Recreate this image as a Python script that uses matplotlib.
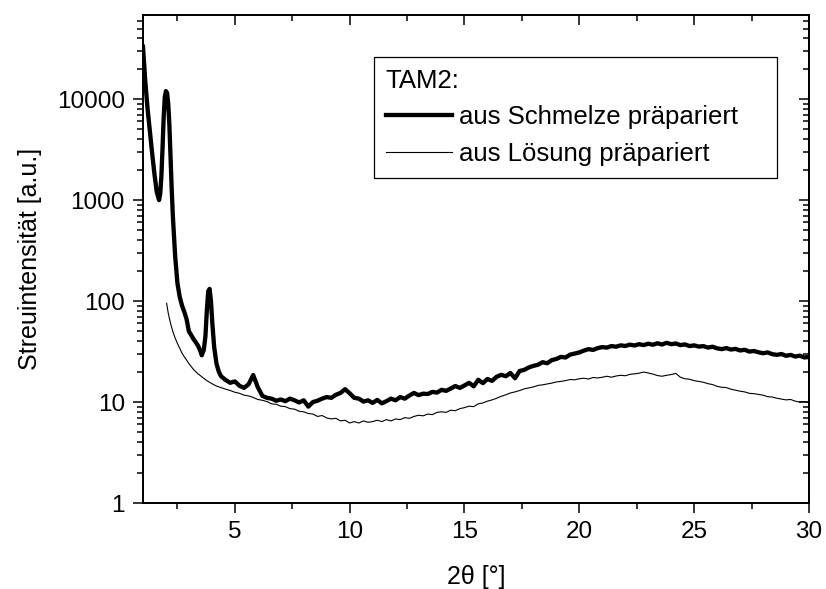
import numpy as np
import matplotlib
matplotlib.use("Agg")
import matplotlib.pyplot as plt

plt.rcParams['font.family'] = ['Liberation Sans', 'DejaVu Sans']

# TAM2, aus Schmelze praepariert (thick line)
melt_x_head = [1.0, 1.1, 1.2, 1.3, 1.4, 1.5, 1.6, 1.7, 1.75, 1.8, 1.85, 1.9, 1.95,
               2.0, 2.05, 2.1, 2.15, 2.2, 2.25, 2.3, 2.4, 2.5, 2.6, 2.7, 2.8, 2.9,
               3.0, 3.1, 3.2, 3.3, 3.4, 3.5, 3.56, 3.65, 3.72, 3.78, 3.84, 3.9,
               3.96, 4.02, 4.1, 4.2, 4.3]
melt_y_head = [33000, 15000, 8000, 4800, 2900, 1800, 1200, 1000, 1150, 1700, 3200,
               6500, 10500, 12000, 11500, 9000, 5500, 2700, 1300, 700, 280, 150,
               110, 90, 78, 66, 50, 46, 42, 39, 36, 32, 29, 33, 45, 80, 125, 132,
               100, 60, 35, 24, 20]
tail_x = np.round(np.arange(4.4, 30.01, 0.2), 2)
melt_y_tail = [
    18, 16.5, 15.5, 16, 14.5, 13.8, 15, 18.5, 14, 11.5,
    11, 10.8, 10.3, 10.6, 10.2, 10.8, 10.4, 9.9, 10.4, 9.0,
    10.0, 10.3, 10.8, 11.2, 11.0, 11.8, 12.3, 13.4, 12.2, 11.0,
    10.8, 10.1, 10.4, 9.8, 10.5, 9.7, 10.2, 10.8, 10.4, 11.2,
    10.8, 11.6, 12.3, 11.7, 12.1, 12.0, 12.6, 12.4, 13.2, 12.9,
    13.6, 14.4, 13.8, 14.6, 15.5, 14.3, 16.6, 15.4, 16.9, 16.2,
    17.8, 18.6, 18.0, 19.4, 17.2, 20.3, 20.8, 22.0, 22.8, 23.4,
    24.8, 24.2, 26.0, 26.7, 28.0, 27.6, 29.5, 30.2, 31.0, 32.3,
    33.4, 32.8, 34.2, 35.0, 34.6, 35.8, 35.3, 36.4, 35.9, 37.0,
    36.3, 37.4, 36.6, 37.8, 36.9, 38.2, 37.1, 38.6, 37.4, 38.0,
    36.6, 37.2, 35.8, 36.4, 35.4, 35.8, 34.6, 35.3, 34.0, 33.4,
    34.2, 33.1, 33.6, 32.4, 32.9, 31.6, 32.0, 31.1, 30.4, 31.0,
    29.8, 29.3, 29.9, 28.7, 29.3, 28.2, 28.8, 27.6, 28.0]

# TAM2, aus Loesung praepariert (thin line)
sol_x_head = [2.03, 2.1, 2.2, 2.3, 2.4, 2.5, 2.6, 2.7, 2.8, 2.9, 3.0, 3.2, 3.4,
              3.6, 3.8, 4.0, 4.2]
sol_y_head = [95, 76, 60, 50, 43, 38, 34, 30.5, 28, 26, 24, 21, 19, 17.5, 16.2,
              15.2, 14.4]
sol_y_tail = [
    13.9, 13.4, 13.0, 12.5, 12.2, 11.7, 11.5, 11.1, 10.6, 10.4,
    10.1, 9.6, 9.5, 9.1, 9.0, 8.6, 8.5, 8.1, 8.0, 7.7,
    7.6, 7.2, 7.35, 6.95, 6.8, 6.9, 6.5, 6.6, 6.2, 6.4,
    6.2, 6.5, 6.3, 6.4, 6.6, 6.4, 6.7, 6.5, 6.8, 6.7,
    7.0, 6.9, 7.2, 7.4, 7.3, 7.6, 7.5, 7.9, 8.0, 7.9,
    8.3, 8.2, 8.6, 8.8, 9.1, 9.0, 9.6, 9.8, 10.2, 10.5,
    10.9, 11.4, 11.8, 12.3, 12.6, 13.0, 13.5, 13.8, 14.1, 14.6,
    14.8, 15.1, 15.4, 15.8, 16.0, 16.3, 16.7, 16.6, 17.0, 17.2,
    16.9, 17.5, 17.3, 17.6, 18.0, 17.6, 18.1, 18.4, 18.2, 18.8,
    19.0, 19.3, 19.8, 19.4, 18.9, 18.3, 18.0, 18.4, 18.7, 19.2,
    17.6, 17.0, 16.8, 16.3, 16.0, 15.7, 15.2, 14.9, 14.3, 14.0,
    13.9, 13.4, 13.1, 12.8, 12.6, 12.2, 12.1, 11.9, 11.7, 11.3,
    11.2, 10.9, 10.7, 10.5, 10.6, 10.2, 10.0, 10.1, 9.9]

melt_x = np.concatenate([melt_x_head, tail_x])
melt_y = np.concatenate([melt_y_head, melt_y_tail])
sol_x = np.concatenate([sol_x_head, tail_x])
sol_y = np.concatenate([sol_y_head, sol_y_tail])

fig = plt.figure(figsize=(8.26, 5.89), dpi=100)
ax = fig.add_axes([0.1731, 0.146, 0.8063, 0.8285])

ax.plot(melt_x, melt_y, color='black', lw=3.1, label='aus Schmelze präpariert')
ax.plot(sol_x, sol_y, color='black', lw=0.8, label='aus Lösung präpariert')

ax.set_yscale('log')
ax.set_xlim(1, 30)
ax.set_ylim(1, 6.8e4)
ax.set_xticks([5, 10, 15, 20, 25, 30])
ax.set_xticks(np.arange(2.5, 30, 5), minor=True)
ax.set_yticks([1, 10, 100, 1000, 10000])
ax.set_yticklabels(['1', '10', '100', '1000', '10000'])

for s in ax.spines.values():
    s.set_linewidth(1.1)
ax.tick_params(which='major', direction='out', length=7, width=1.1,
               labelsize=17.5, pad=6)
ax.tick_params(which='minor', direction='out', length=4, width=1.1)

# mirrored ticks on top/right, pointing inward
top = ax.twiny()
top.set_xlim(ax.get_xlim())
top.set_xticks(ax.get_xticks())
top.set_xticks(np.arange(2.5, 30, 5), minor=True)
top.tick_params(which='major', direction='in', length=7, width=1.1, labeltop=False)
top.tick_params(which='minor', direction='in', length=4, width=1.1)
right = ax.twinx()
right.set_yscale('log')
right.set_ylim(ax.get_ylim())
right.tick_params(which='major', direction='in', length=7, width=1.1, labelright=False)
right.tick_params(which='minor', direction='in', length=4, width=1.1)
for a in (top, right):
    for s in a.spines.values():
        s.set_linewidth(1.1)

ax.set_xlabel('2θ [°]', fontsize=18, labelpad=16)
ax.set_ylabel('Streuintensität [a.u.]', fontsize=18, labelpad=11)

leg = ax.legend(title='TAM2:', loc='upper left',
                bbox_to_anchor=(0.347, 0.664, 0.605, 0.25), mode='expand',
                alignment='left', fontsize=18.5, title_fontsize=18.5,
                frameon=True, fancybox=False, framealpha=1, edgecolor='black',
                handlelength=2.6, handletextpad=0.25, labelspacing=0.5,
                borderpad=0.45, borderaxespad=0)
leg.get_frame().set_linewidth(0.9)

fig.savefig('out.png', dpi=100)
